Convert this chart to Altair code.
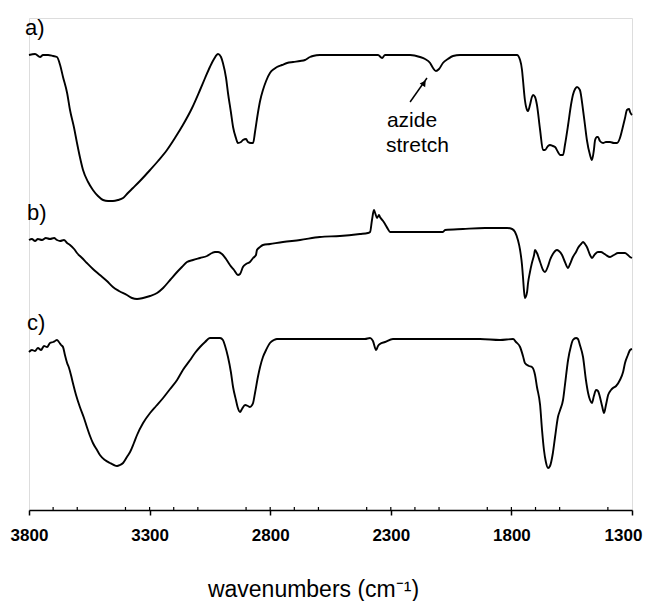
import altair as alt
import pandas as pd

# ---- trace a) ----
a_wn = [3800,3775,3754,3742,3721,3700,3684,3671,3659,3642,3630,3613,3601,3589,3576,3555,3535,3514,3493,3472,
        3452,3431,3410,3390,3369,3340,3298,3265,3228,3195,3162,3124,3091,3070,3050,3033,3016,3004,2996,2983,
        2975,2963,2954,2942,2934,2921,2913,2900,2892,2880,2871,2863,2851,2842,2830,2817,2801,2784,2772,2751,
        2730,2705,2676,2656,2635,2623,2594,2552,2469,2386,2353,2336,2324,2262,2220,2179,2158,2137,2125,2113,
        2100,2084,2063,2042,2013,1930,1847,1806,1777,1764,1756,1752,1744,1735,1731,1723,1715,1710,1702,1694,
        1681,1669,1661,1648,1640,1628,1619,1607,1598,1586,1578,1565,1553,1545,1536,1528,1516,1503,1495,1487,
        1474,1466,1458,1453,1445,1441,1433,1420,1408,1391,1375,1362,1350,1341,1329,1321,1312,1308,1300]
a_val = [455,456,453,455,455,454,453,445,433,417,400,382,367,353,340,328,320,314,310,309,
         309,310,312,317,322,329,340,349,360,372,385,402,420,432,443,451,456,453,447,432,
         417,398,383,372,367,368,370,371,368,367,367,378,397,409,420,429,437,441,443,445,
         447,448,449,450,453,454,455,455,455,455,455,452,455,455,455,453,451,447,442,439,
         441,447,451,454,455,455,455,455,455,450,440,430,410,400,399,405,413,415,413,405,
         380,360,360,364,365,364,363,358,355,355,365,385,405,415,421,423,420,400,385,370,
         355,350,360,370,373,373,369,367,368,368,367,367,372,380,392,400,401,398,395]

# ---- trace b) ----
b_wn = [3800,3788,3775,3763,3746,3730,3713,3696,3684,3671,3655,3642,3630,3613,3601,3580,3560,3535,3506,3477,
        3452,3427,3394,3373,3352,3327,3298,3269,3244,3215,3186,3166,3145,3120,3091,3062,3041,3029,3016,3000,
        2983,2967,2950,2934,2925,2913,2900,2884,2871,2859,2855,2842,2830,2801,2747,2676,2594,2511,2428,2395,
        2386,2378,2370,2365,2357,2349,2345,2332,2324,2312,2303,2179,2084,2075,2001,1909,1818,1797,1785,1773,
        1764,1756,1752,1748,1744,1735,1731,1723,1715,1706,1702,1694,1681,1669,1661,1648,1640,1628,1611,1603,
        1590,1578,1565,1557,1545,1532,1524,1511,1503,1495,1487,1474,1466,1453,1441,1428,1420,1408,1391,1375,
        1358,1341,1329,1317,1308,1300]
b_val = [270,271,269,271,270,272,271,272,270,269,270,267,265,261,257,252,247,241,235,229,
         223,219,215,212,211,212,214,217,222,230,238,243,248,250,252,254,257,258,258,256,
         251,245,240,235,236,243,246,248,252,255,260,263,265,266,268,270,273,274,276,277,
         278,290,300,297,292,295,293,289,286,281,278,278,278,280,281,282,282,281,278,270,
         260,245,233,220,212,218,227,238,247,255,260,257,248,240,238,244,250,256,260,259,
         255,248,242,246,253,258,262,266,268,266,263,255,252,256,258,258,257,255,253,255,
         257,257,257,255,253,252]

# ---- trace c) ----
c_wn = [3800,3788,3775,3763,3750,3738,3725,3713,3700,3692,3684,3676,3667,3659,3651,3642,3634,3626,3618,3605,
        3589,3572,3560,3547,3535,3518,3506,3485,3464,3448,3435,3423,3410,3394,3381,3365,3352,3327,3298,3273,
        3244,3215,3186,3162,3132,3112,3091,3070,3050,3033,3021,3008,2996,2987,2975,2963,2954,2942,2934,2925,
        2917,2904,2892,2884,2875,2871,2863,2851,2842,2830,2817,2801,2784,2772,2718,2635,2552,2469,2407,2386,
        2374,2361,2353,2345,2324,2291,2179,2055,1930,1847,1793,1781,1764,1752,1744,1727,1715,1702,1694,1681,
        1673,1665,1657,1648,1640,1628,1619,1607,1598,1586,1578,1565,1553,1545,1532,1524,1516,1503,1491,1482,
        1474,1466,1458,1449,1441,1433,1424,1416,1408,1399,1387,1379,1366,1350,1337,1329,1317,1308,1300]
c_val = [158,160,159,162,160,164,163,167,168,169,170,168,165,163,155,147,142,135,127,115,
         103,92,83,74,67,60,55,50,47,45,44,45,47,53,58,67,75,87,97,104,
         112,121,130,140,150,157,163,168,172,172,172,172,170,164,153,138,123,110,102,98,
         101,105,104,103,105,107,117,133,143,153,160,167,170,171,171,171,171,171,171,172,
         169,160,164,166,168,171,171,171,171,170,171,168,163,154,147,144,143,135,123,105,
         80,60,48,42,44,57,73,93,100,110,125,150,164,170,172,171,165,153,130,117,
         110,107,114,120,119,113,104,97,105,115,120,122,124,130,138,147,155,160,161]

# ---- labels, annotation, axis ticks ----
panel_labels = ["a)", "b)", "c)"]
panel_label_wn = [3817, 3808, 3808]
panel_label_val = [482, 297, 187]

note_lines = ["azide", "stretch"]
note_wn = [2316, 2320]
note_val = [383, 358]

arrow_from = (2220, 408)
arrow_to = (2150, 432)
arrow_head = (2162, 427)

major_ticks = [3800, 3300, 2800, 2300, 1800, 1300]
minor_ticks = [w for w in range(3700, 1300, -100) if w % 500 != 0]

rows = []
for name, wn, val in (("a", a_wn, a_val), ("b", b_wn, b_val), ("c", c_wn, c_val)):
    for w, v in zip(wn, val):
        rows.append({"trace": name, "wn": w, "val": v})
spectra = pd.DataFrame(rows)

FONT = "Liberation Sans"
xscale = alt.Scale(domain=[1300, 3800], reverse=True, nice=False, zero=False)
yscale = alt.Scale(domain=[0, 492], nice=False, zero=False)

lines = alt.Chart(spectra).mark_line(color="black", strokeWidth=1.9, interpolate="monotone").encode(
    x=alt.X("wn:Q", scale=xscale,
            axis=alt.Axis(values=major_ticks, format="d", grid=False,
                          labelFont=FONT, labelFontSize=17, labelFontWeight="bold", labelColor="black",
                          labelFlush=False, labelPadding=12, labelOverlap=False,
                          labelOffset={"condition": {"test": "datum.value <= 1300", "value": -9}, "value": 0},
                          tickSize=5, tickWidth=1.5, tickColor="black",
                          domainColor="black", domainWidth=1.5,
                          title="wavenumbers (cm⁻¹)", titleFont=FONT, titleFontSize=23,
                          titleFontWeight="normal", titleColor="black",
                          titleX=284, titleY=86, titleAlign="center", titleBaseline="alphabetic")),
    y=alt.Y("val:Q", scale=yscale, axis=None),
    detail="trace:N",
)

minor = alt.Chart(pd.DataFrame({"wn": minor_ticks})).mark_rule(color="black", strokeWidth=1.2).encode(
    x=alt.X("wn:Q", scale=xscale),
    y=alt.value(492), y2=alt.value(489),
)

labels = alt.Chart(pd.DataFrame({"t": panel_labels, "wn": panel_label_wn, "val": panel_label_val})).mark_text(
    font=FONT, fontSize=22, align="left", baseline="middle", color="black"
).encode(x=alt.X("wn:Q", scale=xscale), y=alt.Y("val:Q", scale=yscale), text="t:N")

note = alt.Chart(pd.DataFrame({"t": note_lines, "wn": note_wn, "val": note_val})).mark_text(
    font=FONT, fontSize=21, align="left", baseline="alphabetic", color="black"
).encode(x=alt.X("wn:Q", scale=xscale), y=alt.Y("val:Q", scale=yscale), text="t:N")

arrow_df = pd.DataFrame({"x1": [arrow_from[0]], "y1": [arrow_from[1]], "x2": [arrow_to[0]], "y2": [arrow_to[1]]})
arrow_line = alt.Chart(arrow_df).mark_rule(color="black", strokeWidth=1.5).encode(
    x=alt.X("x1:Q", scale=xscale), x2="x2:Q",
    y=alt.Y("y1:Q", scale=yscale), y2="y2:Q",
)
head = alt.Chart(pd.DataFrame({"wn": [arrow_head[0]], "val": [arrow_head[1]]})).mark_point(
    shape="triangle-up", filled=True, color="black", size=45, angle=35, opacity=1
).encode(x=alt.X("wn:Q", scale=xscale), y=alt.Y("val:Q", scale=yscale))

chart = alt.layer(lines, minor, labels, note, arrow_line, head).properties(
    width=603, height=492,
    autosize=alt.AutoSizeParams(type="none"),
    padding={"left": 21, "top": 10, "right": 11, "bottom": 91},
).configure_view(stroke=None).configure(background="white")

chart.save("out.html", embed_options={"renderer": "svg", "actions": False})
